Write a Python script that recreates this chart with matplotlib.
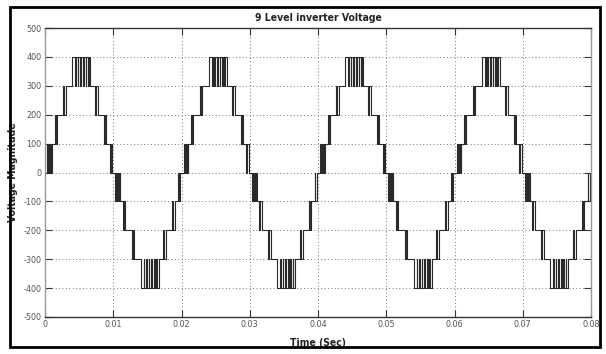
import matplotlib
matplotlib.use("Agg")
import matplotlib.pyplot as plt
from matplotlib.patches import Rectangle

# ---- chart text / ticks ----
title = "9 Level inverter Voltage"
x_label = "Time (Sec)"
y_label = "Voltage Magnitude"
x_ticks = [0, 0.01, 0.02, 0.03, 0.04, 0.05, 0.06, 0.07, 0.08]
x_tick_labels = ["0", "0.01", "0.02", "0.03", "0.04", "0.05", "0.06", "0.07", "0.08"]
y_ticks = [-500, -400, -300, -200, -100, 0, 100, 200, 300, 400, 500]
y_tick_labels = ["-500", "-400", "-300", "-200", "-100", "0", "100", "200", "300", "400", "500"]

# ---- waveform data ----
n_cycles = 4
half_period_ms = 10.0
level_volts = 100
# switching instants inside one half-cycle (ms) and the level index after each switch
half_switch_ms = [0.00, 0.30, 0.45, 0.60, 0.72, 0.85, 0.92, 1.00,
                  1.40, 1.55, 1.75,
                  2.70, 2.85, 3.05,
                  4.00, 4.45, 4.55, 4.80, 4.90, 5.20, 5.30, 5.60, 5.70, 5.95, 6.05, 6.30, 6.40,
                  6.65,
                  7.35, 7.50, 7.80,
                  8.65, 8.80, 9.00,
                  9.50, 9.62, 9.85]
half_levels = [0, 1, 0, 1, 0, 1, 0, 1,
               2, 1, 2,
               3, 2, 3,
               4, 3, 4, 3, 4, 3, 4, 3, 4, 3, 4, 3, 4,
               3,
               2, 3, 2,
               1, 2, 1,
               0, 1, 0]

t_vals = []
v_vals = []
for c in range(n_cycles):
    for h, sign in ((0, 1), (1, -1)):
        base = (2 * c + h) * half_period_ms
        for ts, lv in zip(half_switch_ms, half_levels):
            t_vals.append((base + ts) / 1000.0)
            v_vals.append(sign * lv * level_volts)
t_vals.append(n_cycles * 2 * half_period_ms / 1000.0)
v_vals.append(0)

# ---- figure ----
plt.rcParams["font.family"] = ["DejaVu Sans"]
plt.rcParams["font.stretch"] = "condensed"
W, H = 606, 354
fig = plt.figure(figsize=(W / 100, H / 100), dpi=100)
fig.patch.set_facecolor("white")

left, right, top, bottom = 45, 591, 28, 317
ax = fig.add_axes([left / W, 1 - bottom / H, (right - left) / W, (bottom - top) / H])

ax.step(t_vals, v_vals, where="post", color="#2a2a2a", lw=0.8)

ax.set_xlim(0, 0.08)
ax.set_ylim(-500, 500)
ax.set_xticks(x_ticks)
ax.set_xticklabels(x_tick_labels)
ax.set_yticks(y_ticks)
ax.set_yticklabels(y_tick_labels)
ax.tick_params(direction="in", length=5, width=0.8, colors="#333333",
               labelsize=6.5, top=True, right=True, pad=2.5)
for lab in ax.get_xticklabels() + ax.get_yticklabels():
    lab.set_color("#555555")
ax.grid(True, linestyle=(0, (1, 2.5)), color="#777777", lw=0.7)

for s in ["top", "bottom"]:
    ax.spines[s].set_color("#333333")
    ax.spines[s].set_linewidth(1.0)
for s in ["left", "right"]:
    ax.spines[s].set_color("#999999")
    ax.spines[s].set_linewidth(1.0)

ax.set_title(title, fontsize=7.5, fontweight="bold", color="#222222", pad=5)
ax.set_xlabel(x_label, fontsize=7.5, fontweight="bold", color="#222222")
ax.set_ylabel(y_label, fontsize=7.5, fontweight="bold", color="#222222")
ax.xaxis.set_label_coords(0.5, -(338 - 317) / (317 - 28))
ax.yaxis.set_label_coords(-(45 - 18) / (591 - 45), 0.5)

# outer black frame
fig.patches.append(Rectangle((10 / W, 1 - 347 / H), (600 - 10) / W, (347 - 7) / H,
                             transform=fig.transFigure, fill=False,
                             edgecolor="black", lw=2.0))

fig.savefig("out.png", dpi=100)
